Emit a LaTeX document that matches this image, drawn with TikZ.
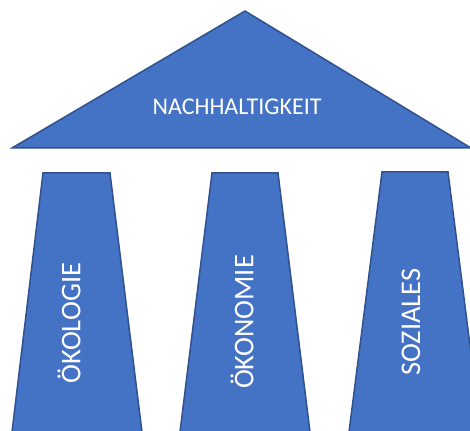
\documentclass[tikz,border=0pt]{standalone}
\usepackage{fontspec}
\setmainfont{Carlito}
\definecolor{fillblue}{HTML}{4472C4}
\definecolor{edgeblue}{HTML}{2F528F}
\begin{document}
\begin{tikzpicture}[x=1pt,y=-1pt,
  part/.style={fill=fillblue,draw=edgeblue,line width=1.5pt,line join=miter},
  lbl/.style={text=white,inner sep=0pt}]
\useasboundingbox (0,0) rectangle (470,430);
\clip (0,0) rectangle (470,430);
\draw[part] (12,148) -- (245,11) -- (471,148) -- cycle;
\draw[part] (43,173) -- (110,173) -- (142,432) -- (12,432) -- cycle;
\draw[part] (212,173) -- (278,173) -- (310,432) -- (180,432) -- cycle;
\draw[part] (382,172) -- (448,172) -- (481,432) -- (349,432) -- cycle;
\node[lbl,font=\fontsize{24}{28}\selectfont] (roof) at (237,107) {NACHHALTIGKEIT};
\node[lbl,rotate=90,font=\fontsize{28.5}{32}\selectfont] (oeko) at (69,323) {ÖKOLOGIE};
\node[lbl,rotate=90,font=\fontsize{28.5}{32}\selectfont] (oekon) at (242,322) {ÖKONOMIE};
\node[lbl,rotate=90,font=\fontsize{28.5}{32}\selectfont] (soz) at (411,322) {SOZIALES};
\end{tikzpicture}
\end{document}
